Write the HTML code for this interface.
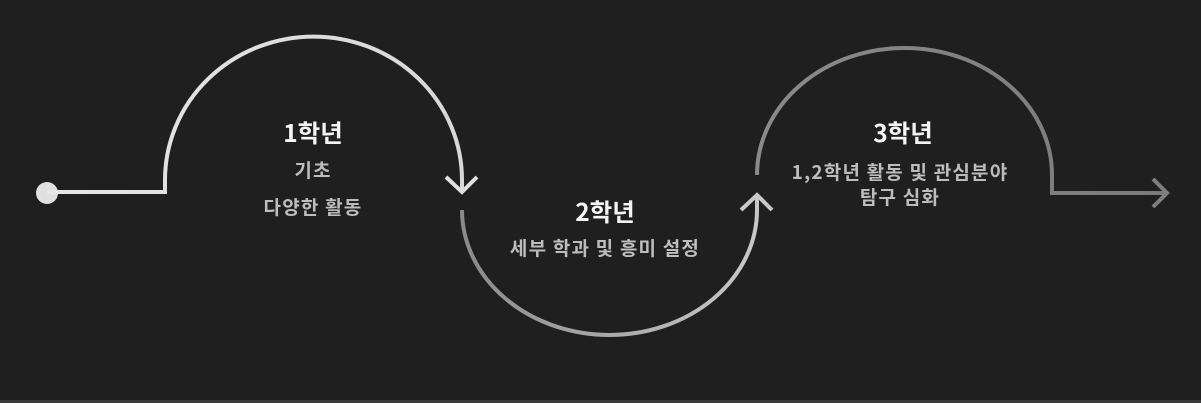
<!DOCTYPE html>
<html><head><meta charset="utf-8"><style>
html,body{margin:0;padding:0;background:#1f1f1f;}
svg{display:block;}
text{font-family:"Noto Sans CJK KR","Liberation Sans",sans-serif;text-anchor:middle;}
.s{font-size:19px;font-weight:bold;fill:#bdbdbd;letter-spacing:1.2px;}
.t{font-size:24.5px;font-weight:bold;fill:#f4f4f4;}
</style></head><body>
<svg width="1201" height="403" viewBox="0 0 1201 403" xmlns="http://www.w3.org/2000/svg">
<defs>
<linearGradient id="g1" x1="0" y1="0" x2="1" y2="0"><stop offset="0" stop-color="#e6e6e6"/><stop offset="1" stop-color="#d8d8d8"/></linearGradient>
<linearGradient id="g2" x1="0" y1="0" x2="1" y2="0"><stop offset="0" stop-color="#8a8a8a"/><stop offset="1" stop-color="#c8c8c8"/></linearGradient>
<linearGradient id="g3" x1="0" y1="0" x2="1" y2="0"><stop offset="0" stop-color="#8a8a8a"/><stop offset="1" stop-color="#7a7a7a"/></linearGradient>
</defs>
<rect width="1201" height="403" fill="#1f1f1f"/>
<rect x="0" y="400" width="1201" height="3" fill="#3a3a3a"/>
<ellipse cx="47" cy="193" rx="11" ry="11" fill="#e0e0e0"/>
<path d="M47 192 H165 V180 A148 143 0 0 1 462 180 V190" fill="none" stroke="url(#g1)" stroke-width="4"/>
<path d="M446 177 L462 192 L477 177" fill="none" stroke="#e0e0e0" stroke-width="4"/>
<path d="M462 210 A147.5 125 0 0 0 757 210 V197" fill="none" stroke="url(#g2)" stroke-width="4"/>
<path d="M741 210 L757 195 L772 210" fill="none" stroke="#c8c8c8" stroke-width="4"/>
<path d="M757 175 A147.5 127 0 0 1 1052 175 V193 H1166" fill="none" stroke="url(#g3)" stroke-width="4"/>
<path d="M1153 179 L1167 193 L1153 207" fill="none" stroke="#7e7e7e" stroke-width="4"/>
<text x="313" y="142" class="t">1학년</text>
<text x="313" y="177" class="s">기초</text>
<text x="313" y="214" class="s">다양한 활동</text>
<text x="605" y="221" class="t">2학년</text>
<text x="605" y="255" class="s">세부 학과 및 흥미 설정</text>
<text x="903" y="142" class="t">3학년</text>
<text x="900" y="179" class="s">1,2학년 활동 및 관심분야</text>
<text x="900" y="204" class="s">탐구 심화</text>
</svg>
</body></html>
